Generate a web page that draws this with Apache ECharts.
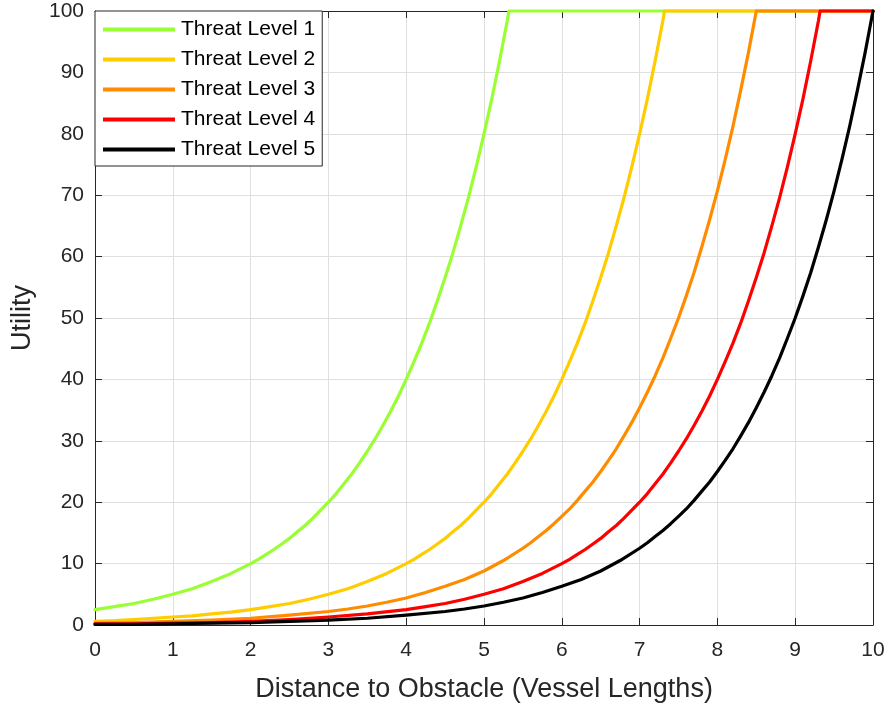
<!DOCTYPE html>
<html>
<head>
<meta charset="utf-8">
<script src="https://cdn.jsdelivr.net/npm/echarts@6/dist/echarts.min.js"></script>
<style>
html,body{margin:0;padding:0;background:#fff;}
#chart{width:890px;height:707px;}
</style>
</head>
<body>
<div id="chart"></div>
<script>
// Data: [distance, utility]
const level1 = [[0,2.5],[0.25,3.0],[0.5,3.5],[0.75,4.2],[1,5.0],[1.25,5.9],[1.5,7.1],[1.75,8.4],[2,10],
  [2.1,10.7],[2.2,11.5],[2.3,12.3],[2.4,13.2],[2.5,14.1],[2.6,15.2],[2.7,16.2],[2.8,17.4],[2.9,18.7],[3,20],
  [3.1,21.4],[3.2,23.0],[3.3,24.6],[3.4,26.4],[3.5,28.3],[3.6,30.3],[3.7,32.5],[3.8,34.8],[3.9,37.3],[4,40],
  [4.1,42.9],[4.2,45.9],[4.3,49.2],[4.4,52.8],[4.5,56.6],[4.6,60.6],[4.7,65.0],[4.8,69.6],[4.9,74.6],[5,80],
  [5.1,85.7],[5.2,91.9],[5.3,98.5],[5.32,100],[10,100]];
const level2 = [[0,0.6],[0.25,0.7],[0.5,0.9],[0.75,1.1],[1,1.3],[1.25,1.5],[1.5,1.8],[1.75,2.1],[2,2.5],
  [2.25,3.0],[2.5,3.5],[2.75,4.2],[3,5.0],[3.25,5.9],[3.5,7.1],[3.75,8.4],[4,10],
  [4.1,10.7],[4.2,11.5],[4.3,12.3],[4.4,13.2],[4.5,14.1],[4.6,15.2],[4.7,16.2],[4.8,17.4],[4.9,18.7],[5,20],
  [5.1,21.4],[5.2,23.0],[5.3,24.6],[5.4,26.4],[5.5,28.3],[5.6,30.3],[5.7,32.5],[5.8,34.8],[5.9,37.3],[6,40],
  [6.1,42.9],[6.2,45.9],[6.3,49.2],[6.4,52.8],[6.5,56.6],[6.6,60.6],[6.7,65.0],[6.8,69.6],[6.9,74.6],[7,80],
  [7.1,85.7],[7.2,91.9],[7.3,98.5],[7.32,100],[10,100]];
const level3 = [[0,0.3],[0.5,0.4],[1,0.6],[1.5,0.8],[2,1.1],[2.5,1.6],[3,2.2],[3.25,2.6],[3.5,3.1],[3.75,3.7],
  [4,4.4],[4.25,5.3],[4.5,6.3],[4.75,7.4],[5,8.8],[5.25,10.5],
  [5.5,12.5],[5.6,13.4],[5.7,14.4],[5.8,15.4],[5.9,16.5],[6,17.7],[6.1,18.9],[6.2,20.3],[6.3,21.8],[6.4,23.3],
  [6.5,25.0],[6.6,26.8],[6.7,28.7],[6.8,30.8],[6.9,33.0],[7,35.4],[7.1,37.9],[7.2,40.6],[7.3,43.5],[7.4,46.7],
  [7.5,50],[7.6,53.6],[7.7,57.4],[7.8,61.6],[7.9,66.0],[8,70.7],[8.1,75.8],[8.2,81.2],[8.3,87.1],[8.4,93.3],
  [8.5,100],[10,100]];
const level4 = [[0,0.2],[0.5,0.2],[1,0.3],[1.5,0.4],[2,0.6],[2.5,0.9],[3,1.3],[3.5,1.8],[4,2.5],
  [4.25,3.0],[4.5,3.5],[4.75,4.2],[5,5.0],[5.25,5.9],[5.5,7.1],[5.75,8.4],[6,10],
  [6.1,10.7],[6.2,11.5],[6.3,12.3],[6.4,13.2],[6.5,14.1],[6.6,15.2],[6.7,16.2],[6.8,17.4],[6.9,18.7],[7,20],
  [7.1,21.4],[7.2,23.0],[7.3,24.6],[7.4,26.4],[7.5,28.3],[7.6,30.3],[7.7,32.5],[7.8,34.8],[7.9,37.3],[8,40],
  [8.1,42.9],[8.2,45.9],[8.3,49.2],[8.4,52.8],[8.5,56.6],[8.6,60.6],[8.7,65.0],[8.8,69.6],[8.9,74.6],[9,80],
  [9.1,85.7],[9.2,91.9],[9.3,98.5],[9.32,100],[10,100]];
const level5 = [[0,0.1],[0.5,0.1],[1,0.2],[1.5,0.3],[2,0.4],[2.5,0.6],[3,0.8],[3.5,1.1],[4,1.6],[4.5,2.2],
  [4.75,2.6],[5,3.1],[5.25,3.7],[5.5,4.4],[5.75,5.3],[6,6.3],[6.25,7.4],[6.5,8.8],[6.75,10.5],[7,12.5],
  [7.1,13.4],[7.2,14.4],[7.3,15.4],[7.4,16.5],[7.5,17.7],[7.6,18.9],[7.7,20.3],[7.8,21.8],[7.9,23.3],[8,25],
  [8.1,26.8],[8.2,28.7],[8.3,30.8],[8.4,33.0],[8.5,35.4],[8.6,37.9],[8.7,40.6],[8.8,43.5],[8.9,46.7],[9,50],
  [9.1,53.6],[9.2,57.4],[9.3,61.6],[9.4,66.0],[9.5,70.7],[9.6,75.8],[9.7,81.2],[9.8,87.1],[9.9,93.3],[10,100]];

const seriesNames = ['Threat Level 1','Threat Level 2','Threat Level 3','Threat Level 4','Threat Level 5'];
const seriesData = [level1, level2, level3, level4, level5];
const seriesColors = ['#99ff33','#ffcc00','#ff8c00','#ff0000','#000000'];
const xTicks = [0,1,2,3,4,5,6,7,8,9,10];
const yTicks = [0,10,20,30,40,50,60,70,80,90,100];

const FONT = '"Liberation Sans", Arial, sans-serif';
const AXC = '#262626';

const chart = echarts.init(document.getElementById('chart'), null, {renderer:'canvas'});

const baseX = {
  type:'value', min:xTicks[0], max:xTicks[xTicks.length-1], interval:1
};
const baseY = {
  type:'value', min:yTicks[0], max:yTicks[yTicks.length-1], interval:10
};

chart.setOption({
  backgroundColor:'#ffffff',
  animation:false,
  textStyle:{fontFamily:FONT},
  grid:{left:95, right:17, top:11, bottom:82, containLabel:false, outerBoundsMode:'none'},
  legend:{
    data:seriesNames,
    orient:'vertical',
    left:95, top:11,
    icon:'rect',
    itemWidth:72, itemHeight:4,
    itemGap:9,
    padding:[8,7,6,8],
    backgroundColor:'#ffffff',
    borderColor:AXC, borderWidth:1,
    textStyle:{fontFamily:FONT, fontSize:21, color:'#000000', padding:[0,0,0,1]},
    selectedMode:false
  },
  xAxis:[
    Object.assign({}, baseX, {
      position:'bottom',
      name:'Distance to Obstacle (Vessel Lengths)',
      nameLocation:'middle', nameGap:51,
      nameTextStyle:{fontFamily:FONT, fontSize:27, color:AXC},
      axisLine:{show:true, onZero:false, lineStyle:{color:AXC, width:1}},
      axisTick:{show:true, inside:true, length:7, lineStyle:{color:AXC}},
      axisLabel:{show:true, fontFamily:FONT, fontSize:21, color:AXC, margin:15},
      splitLine:{show:true, lineStyle:{color:'#dfdfdf', width:1}}
    }),
    Object.assign({}, baseX, {
      position:'top',
      axisLine:{show:true, onZero:false, lineStyle:{color:AXC, width:1}},
      axisTick:{show:true, inside:true, length:7, lineStyle:{color:AXC}},
      axisLabel:{show:false},
      splitLine:{show:false}
    })
  ],
  yAxis:[
    Object.assign({}, baseY, {
      position:'left',
      name:'Utility',
      nameLocation:'middle', nameGap:59,
      nameTextStyle:{fontFamily:FONT, fontSize:27, color:AXC},
      axisLine:{show:true, onZero:false, lineStyle:{color:AXC, width:1}},
      axisTick:{show:true, inside:true, length:7, lineStyle:{color:AXC}},
      axisLabel:{show:true, fontFamily:FONT, fontSize:21, color:AXC, margin:11},
      splitLine:{show:true, lineStyle:{color:'#dfdfdf', width:1}}
    }),
    Object.assign({}, baseY, {
      position:'right',
      axisLine:{show:true, onZero:false, lineStyle:{color:AXC, width:1}},
      axisTick:{show:true, inside:true, length:7, lineStyle:{color:AXC}},
      axisLabel:{show:false},
      splitLine:{show:false}
    })
  ],
  series: seriesNames.map(function(name, i){
    return {
      name:name, type:'line', xAxisIndex:0, yAxisIndex:0,
      data:seriesData[i],
      showSymbol:false, symbol:'none', smooth:false, clip:false,
      lineStyle:{color:seriesColors[i], width:3.2, join:'round', cap:'round'},
      itemStyle:{color:seriesColors[i]},
      z:2+i
    };
  })
});
</script>
</body>
</html>
